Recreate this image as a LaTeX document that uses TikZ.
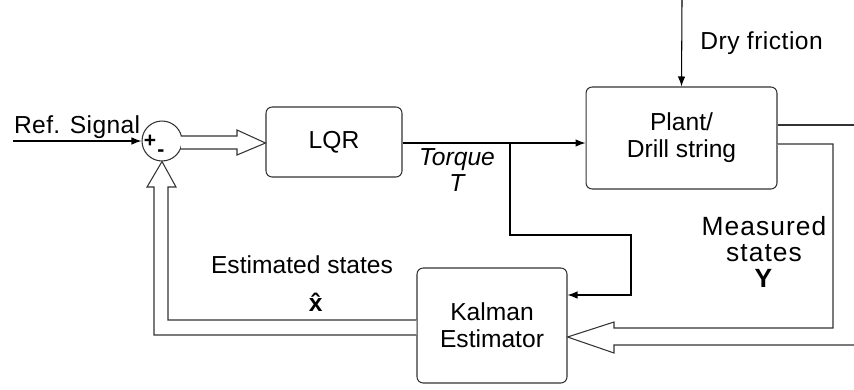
\documentclass[tikz,border=0pt]{standalone}
\usepackage{fontspec}
\setmainfont{Liberation Sans}
\usetikzlibrary{arrows.meta, positioning, calc}

\begin{document}
\begin{tikzpicture}[x=0.02cm, y=-0.02cm, line width=0.6pt,
    font=\fontsize{14}{15.5}\selectfont,
    blocco/.style={draw=black!80, rounded corners=3.5pt, align=center, inner sep=0pt},
    freccia/.style={draw=black, -{Latex[length=2mm, width=1.5mm]}},
    tubo/.style={draw=black!80, fill=white, line join=miter}]
    \useasboundingbox (0,0) rectangle (854,389);

    % Blocchi
    \node[blocco, minimum width=2.72cm, minimum height=1.4cm] (lqr) at (334,142) {LQR};
    \node[blocco, minimum width=3.82cm, minimum height=2.04cm] (plant) at (681.5,138) {Plant/\\Drill string};
    \node[blocco, minimum width=3.0cm, minimum height=2.3cm] (kalman) at (492,325.5) {Kalman\\Estimator};
    \node[draw=black!80, circle, minimum size=0.8cm, inner sep=0pt] (somma) at (162,141) {};
    \node[font=\fontsize{12}{12}\selectfont\bfseries] (piu) at (150,141) {+};
    \node[font=\fontsize{12}{12}\selectfont\bfseries] (meno) at (161,153) {-};

    % Ingresso e disturbo
    \coordinate (ingresso) at (13,141);
    \draw[freccia] (ingresso) -- (somma.west);
    \node[above right=-2pt and -3pt of ingresso, font=\fontsize{14}{15.5}\selectfont\addfontfeatures{LetterSpace=1.5}] (ref) {Ref. Signal};
    \coordinate (attrito) at (682,0);
    \draw[freccia] (attrito) -- (plant.north);
    \node[anchor=west, font=\fontsize{14}{15.5}\selectfont\addfontfeatures{LetterSpace=2}] (dry) at (694,43) {Dry friction};

    % Coppia verso la pianta (e ramo verso Kalman)
    \draw[freccia] (lqr.east |- 0,143) -- (plant.west |- 0,143);
    \coordinate (ramo) at (510,143);
    \draw[freccia] (ramo) |- (631,235) |- (kalman.east |- 0,295);
    \node[font=\fontsize{14}{15}\selectfont\itshape, align=center] (torque) at (457,170) {Torque\\T};

    % Freccia doppia somma -> LQR
    \draw[tubo] (181,136) -- (237,136) -- (237,130) -- (lqr.west |- 0,143)
        -- (237,155) -- (237,149) -- (181,149);

    % Uscite della pianta (freccia doppia verso Kalman)
    \draw[draw=black!80] (plant.east |- 0,125) -- (854,125);
    \draw[tubo] (plant.east |- 0,144) -- (833,144) -- (833,328) -- (614,328) -- (614,322)
        -- (kalman.east |- 0,337) -- (614,353) -- (614,345) -- (854,345);
    \node[align=center, font=\fontsize{15}{15}\selectfont\addfontfeatures{LetterSpace=4}] (misure) at (764,252)
        {Measured\\states\\\textbf{Y}};

    % Retroazione stimata (freccia doppia Kalman -> somma)
    \draw[tubo] (kalman.west |- 0,320) -- (168,320) -- (168,187) -- (176,187)
        -- (somma.south) -- (147,187) -- (154,187) -- (154,335) -- (kalman.west |- 0,335);
    \node (stime) at (302,265) {Estimated states};
    \node (xhat) at (318,302) {\textbf{\^{x}}};

\end{tikzpicture}
\end{document}
